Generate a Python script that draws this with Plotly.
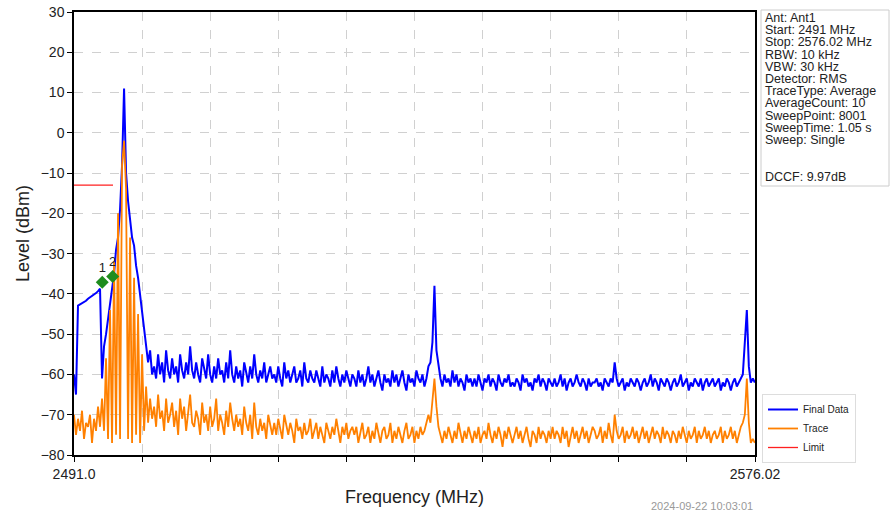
import numpy as np
import plotly.graph_objects as go

# sweep settings
f_start = 2491.0
f_stop = 2576.02
f_step = 0.25

# Final Data (dBm), one value per 0.25 MHz, 20 values per 5 MHz row
final_data = [
    -60, -65, -42.9, -42.6, -42.4, -41.9, -41.7, -41.2, -40.9, -40.6, -40.1, -39.8, -39.3, -38.7, -61, -53, -50, -46, -43, -38,
    -35, -29, -26, -19, -8, 11, -10, -17, -21, -26, -28, -33, -36, -40, -44, -48, -53, -57, -54, -60,
    -58, -61, -55, -60, -57, -62, -54, -59, -61, -56, -60, -58, -62, -55, -59, -61, -57, -60, -53, -59,
    -61, -57, -60, -62, -56, -59, -61, -55, -60, -62, -58, -61, -56, -60, -59, -62, -57, -61, -54, -60,
    -62, -58, -61, -59, -63, -57, -60, -62, -58, -61, -55, -60, -62, -59, -61, -57, -62, -60, -58, -61,
    -60, -62, -58, -61, -63, -57, -61, -59, -62, -60, -58, -62, -61, -59, -63, -57, -61, -62, -59, -61,
    -62, -59, -61, -63, -58, -62, -60, -61, -63, -59, -62, -58, -61, -63, -60, -62, -59, -61, -63, -60,
    -61, -63, -59, -62, -60, -63, -61, -58, -62, -60, -63, -61, -59, -62, -64, -60, -62, -61, -63, -59,
    -62, -60, -63, -61, -59, -62, -64, -60, -62, -61, -63, -59, -61, -62, -60, -63, -61, -58, -57, -52,
    -38, -54, -58, -61, -63, -60, -62, -61, -63, -59, -62, -60, -63, -61, -62, -64, -60, -62, -61, -63,
    -61, -63, -60, -62, -64, -61, -62, -60, -63, -61, -62, -64, -60, -62, -63, -61, -62, -60, -63, -62,
    -63, -61, -62, -64, -60, -62, -61, -63, -62, -64, -61, -62, -60, -63, -61, -62, -64, -61, -62, -63,
    -61, -63, -62, -60, -63, -61, -64, -62, -61, -63, -62, -60, -62, -63, -61, -62, -64, -61, -63, -62,
    -62, -61, -63, -62, -64, -61, -62, -63, -61, -62, -57, -61, -63, -62, -61, -64, -62, -63, -61, -62,
    -63, -61, -62, -64, -62, -61, -63, -62, -60, -63, -61, -62, -64, -61, -62, -63, -61, -62, -64, -62,
    -61, -63, -62, -60, -63, -62, -61, -64, -62, -63, -61, -62, -63, -61, -64, -62, -61, -63, -62, -61,
    -63, -62, -61, -64, -62, -63, -61, -62, -64, -62, -61, -63, -62, -61, -60, -52, -44, -58, -62, -61,
    -62,
]

# Trace (dBm), same grid
trace_data = [
    -70, -75, -71, -74, -69, -76, -72, -73, -70, -77, -71, -74, -68, -73, -66, -74, -56, -76, -44, -77,
    -32, -75, -20, -76, -8, -2, -14, -76, -26, -77, -36, -75, -45, -77, -55, -74, -63, -72, -66, -71,
    -68, -73, -65, -71, -69, -74, -66, -72, -70, -67, -73, -69, -75, -66, -71, -68, -74, -70, -65, -72,
    -73, -69, -71, -75, -67, -72, -70, -74, -68, -73, -71, -66, -74, -70, -72, -75, -69, -73, -67, -71,
    -74, -70, -73, -71, -75, -68, -72, -74, -70, -76, -67, -73, -75, -71, -74, -72, -76, -70, -73, -75,
    -72, -75, -71, -74, -76, -70, -73, -75, -72, -74, -77, -71, -74, -73, -76, -72, -75, -74, -71, -76,
    -74, -72, -76, -73, -75, -77, -72, -74, -76, -73, -75, -71, -74, -77, -73, -75, -72, -76, -74, -73,
    -75, -73, -77, -74, -72, -76, -75, -73, -77, -74, -76, -72, -75, -77, -74, -73, -76, -75, -72, -77,
    -74, -76, -73, -75, -77, -74, -72, -76, -75, -73, -77, -74, -76, -73, -75, -74, -72, -70, -72, -66,
    -61, -68, -73, -75, -77, -74, -76, -73, -75, -77, -74, -76, -72, -75, -77, -74, -76, -73, -75, -77,
    -74, -76, -73, -77, -75, -74, -76, -72, -75, -77, -74, -76, -73, -75, -78, -74, -76, -73, -75, -77,
    -75, -73, -76, -74, -77, -75, -73, -76, -78, -74, -75, -77, -73, -76, -74, -75, -77, -74, -76, -73,
    -76, -74, -75, -77, -73, -76, -74, -78, -75, -73, -76, -74, -77, -75, -73, -76, -74, -77, -75, -73,
    -74, -76, -75, -73, -77, -74, -76, -72, -75, -77, -70, -74, -76, -75, -73, -77, -74, -76, -75, -73,
    -76, -74, -77, -75, -73, -76, -74, -77, -75, -73, -76, -74, -75, -77, -73, -76, -74, -75, -77, -74,
    -75, -77, -74, -76, -73, -75, -77, -74, -76, -75, -73, -77, -74, -76, -75, -73, -76, -74, -77, -75,
    -74, -76, -75, -73, -77, -74, -76, -75, -73, -76, -74, -77, -75, -73, -72, -70, -61, -72, -77, -76,
    -77,
]

limit_freq = [2491.0, 2495.87]
limit_level = [-13, -13]

marker_freq = [2494.53, 2495.83]
marker_level = [-37.1, -35.7]
marker_names = ["1", "2"]

info_lines = ["Ant: Ant1", "Start: 2491 MHz", "Stop: 2576.02 MHz", "RBW: 10 kHz",
              "VBW: 30 kHz", "Detector: RMS", "TraceType: Average", "AverageCount: 10",
              "SweepPoint: 8001", "SweepTime: 1.05 s", "Sweep: Single", "", "", "DCCF: 9.97dB"]
timestamp = "2024-09-22 10:03:01"

freq = np.round(f_start + f_step * np.arange(len(final_data)), 2)
x_ticks = np.linspace(f_start, f_stop, 11)
x_ticktext = ["2491.0"] + [""] * 9 + ["2576.02"]

FONT = "Liberation Sans, Arial, sans-serif"

fig = go.Figure()
fig.add_trace(go.Scatter(x=freq, y=final_data, mode="lines", name="Final Data",
                         line=dict(color="#0000ff", width=2)))
fig.add_trace(go.Scatter(x=freq, y=trace_data, mode="lines", name="Trace",
                         line=dict(color="#ff8000", width=1.8)))
fig.add_trace(go.Scatter(x=limit_freq, y=limit_level, mode="lines", name="Limit",
                         line=dict(color="#ff2020", width=1.3)))
fig.add_trace(go.Scatter(x=marker_freq, y=marker_level, mode="markers+text",
                         text=marker_names, textposition="top center",
                         textfont=dict(size=13, color="#222222"),
                         marker=dict(symbol="diamond", size=10, color="#1e8c1e"),
                         showlegend=False))

# info box on the right
W, H = 681, 443
fig.add_shape(type="rect", xref="paper", yref="paper",
              x0=(761 - 74) / W, x1=(889 - 74) / W, y0=(455 - 186) / H, y1=(455 - 10) / H,
              line=dict(color="#cccccc", width=1), fillcolor="white")
for i, line in enumerate(info_lines):
    if not line:
        continue
    yc = 18 + 12.2 * i
    fig.add_annotation(x=(763 - 74) / W, y=(455 - yc) / H, xref="paper", yref="paper",
                       text=line, showarrow=False, xanchor="left", yanchor="middle",
                       font=dict(family=FONT, size=12.5, color="#222222"))

fig.add_annotation(x=1.0, y=(455 - 506) / H, xref="paper", yref="paper",
                   text=timestamp, showarrow=False, xanchor="right", yanchor="middle",
                   font=dict(family=FONT, size=11, color="#999999"))

fig.update_layout(
    width=891, height=513,
    margin=dict(l=74, r=136, t=12, b=58),
    paper_bgcolor="white", plot_bgcolor="white",
    font=dict(family=FONT, color="#222222"),
    showlegend=True,
    legend=dict(x=(762 - 74) / W, y=(455 - 394) / H, xanchor="left", yanchor="top",
                font=dict(size=10), bordercolor="#dddddd", borderwidth=1,
                bgcolor="white", tracegroupgap=0, itemwidth=30),
)
fig.update_xaxes(range=[f_start, f_stop], tickvals=x_ticks, ticktext=x_ticktext,
                 ticks="outside", ticklen=5, tickcolor="black", automargin=False,
                 tickfont=dict(size=14), showline=True, linecolor="black", linewidth=1.5,
                 mirror=True, showgrid=True, gridcolor="#d0d0d0", griddash="dash",
                 zeroline=False,
                 title=dict(text="Frequency (MHz)", font=dict(size=18), standoff=10))
fig.update_yaxes(range=[-80, 30], dtick=10, ticks="outside", ticklen=5, tickcolor="black",
                 tickfont=dict(size=14), showline=True, linecolor="black", linewidth=1.5,
                 mirror=True, showgrid=True, gridcolor="#d0d0d0", griddash="dash",
                 zeroline=False, automargin=False,
                 title=dict(text="Level (dBm)", font=dict(size=18), standoff=6))

fig.write_html("out.html", config={"displayModeBar": False},
               post_script="document.body.style.margin='0';")
